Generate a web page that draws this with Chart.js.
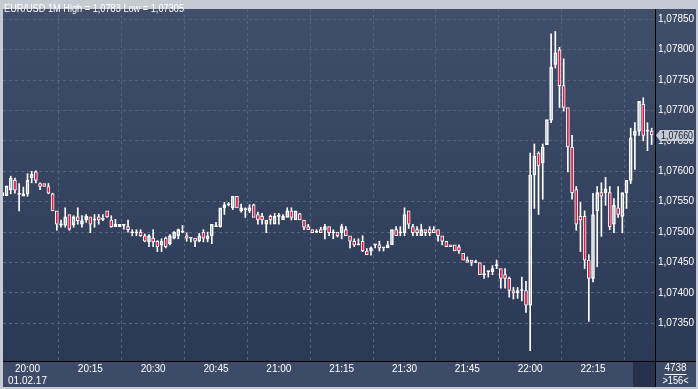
<!DOCTYPE html>
<html>
<head>
<meta charset="utf-8">
<script src="https://cdn.jsdelivr.net/npm/chart.js@4.4.1/dist/chart.umd.min.js"></script>
<style>
  html, body { margin: 0; padding: 0; background: #c6cbd3; }
  canvas { display: block; }
</style>
</head>
<body>
<canvas id="chart" width="698" height="389"></canvas>
<script>
// EUR/USD 1 minute candles, 19:54 .. 22:29
const opens = [
  1.07560,1.07560,1.07570,1.07585,1.07562,1.07559,1.07563,1.07589,1.07599,1.07580,
  1.07580,1.07575,1.07563,1.07535,1.07512,1.07511,1.07529,1.07512,1.07525,1.07513,
  1.07520,1.07525,1.07520,1.07525,1.07521,1.07535,1.07520,1.07509,1.07509,1.07511,
  1.07509,1.07499,1.07499,1.07500,1.07494,1.07484,1.07490,1.07485,1.07479,1.07490,
  1.07481,1.07490,1.07494,1.07500,1.07494,1.07490,1.07490,1.07485,1.07500,1.07489,
  1.07494,1.07509,1.07509,1.07540,1.07545,1.07540,1.07559,1.07535,1.07537,1.07535,
  1.07545,1.07529,1.07526,1.07513,1.07526,1.07513,1.07526,1.07520,1.07524,1.07535,
  1.07520,1.07530,1.07520,1.07509,1.07504,1.07500,1.07504,1.07504,1.07509,1.07499,
  1.07500,1.07499,1.07504,1.07494,1.07485,1.07479,1.07485,1.07469,1.07469,1.07479,
  1.07479,1.07474,1.07474,1.07479,1.07504,1.07499,1.07499,1.07535,1.07509,1.07504,
  1.07494,1.07504,1.07504,1.07504,1.07504,1.07494,1.07485,1.07479,1.07479,1.07476,
  1.07465,1.07454,1.07454,1.07450,1.07450,1.07430,1.07435,1.07435,1.07445,1.07440,
  1.07430,1.07424,1.07404,1.07400,1.07404,1.07404,1.07380,1.07594,1.07630,1.07614,
  1.07644,1.07684,1.07776,1.07800,1.07741,1.07705,1.07640,1.07570,1.07526,1.07526,
  1.07454,1.07424,1.07535,1.07565,1.07565,1.07565,1.07513,1.07540,1.07526,1.07565,
  1.07585,1.07659,1.07666,1.07710,1.07666,1.07666
];
const highs = [
  1.07565,1.07576,1.07592,1.07589,1.07580,1.07574,1.07596,1.07600,1.07601,1.07581,
  1.07580,1.07580,1.07564,1.07535,1.07520,1.07540,1.07529,1.07527,1.07540,1.07527,
  1.07529,1.07525,1.07529,1.07529,1.07529,1.07535,1.07527,1.07521,1.07513,1.07513,
  1.07520,1.07504,1.07504,1.07504,1.07497,1.07496,1.07504,1.07486,1.07489,1.07492,
  1.07496,1.07501,1.07505,1.07511,1.07499,1.07490,1.07490,1.07498,1.07504,1.07500,
  1.07513,1.07516,1.07540,1.07549,1.07549,1.07559,1.07559,1.07546,1.07540,1.07545,
  1.07546,1.07533,1.07531,1.07520,1.07528,1.07531,1.07531,1.07529,1.07540,1.07540,
  1.07535,1.07531,1.07520,1.07513,1.07504,1.07504,1.07508,1.07513,1.07509,1.07504,
  1.07500,1.07513,1.07509,1.07494,1.07489,1.07489,1.07494,1.07473,1.07476,1.07479,
  1.07485,1.07474,1.07485,1.07504,1.07509,1.07509,1.07540,1.07535,1.07513,1.07509,
  1.07513,1.07504,1.07509,1.07509,1.07504,1.07494,1.07485,1.07479,1.07479,1.07479,
  1.07465,1.07459,1.07454,1.07454,1.07450,1.07445,1.07435,1.07445,1.07454,1.07440,
  1.07440,1.07426,1.07409,1.07409,1.07426,1.07419,1.07630,1.07645,1.07632,1.07645,
  1.07685,1.07826,1.07830,1.07804,1.07785,1.07705,1.07659,1.07575,1.07549,1.07535,
  1.07463,1.07564,1.07575,1.07581,1.07590,1.07575,1.07555,1.07575,1.07565,1.07585,
  1.07671,1.07680,1.07715,1.07721,1.07680,1.07671
];
const lows = [
  1.07560,1.07560,1.07563,1.07564,1.07535,1.07559,1.07559,1.07581,1.07581,1.07570,
  1.07575,1.07563,1.07535,1.07503,1.07508,1.07508,1.07503,1.07508,1.07513,1.07508,
  1.07516,1.07499,1.07508,1.07513,1.07519,1.07524,1.07508,1.07509,1.07509,1.07505,
  1.07500,1.07494,1.07494,1.07493,1.07484,1.07476,1.07476,1.07468,1.07468,1.07474,
  1.07479,1.07489,1.07489,1.07499,1.07485,1.07484,1.07476,1.07484,1.07484,1.07484,
  1.07481,1.07509,1.07508,1.07529,1.07543,1.07537,1.07540,1.07533,1.07524,1.07532,
  1.07524,1.07513,1.07513,1.07499,1.07513,1.07513,1.07513,1.07520,1.07524,1.07520,
  1.07520,1.07520,1.07504,1.07504,1.07499,1.07499,1.07499,1.07489,1.07494,1.07489,
  1.07492,1.07489,1.07494,1.07474,1.07476,1.07479,1.07468,1.07463,1.07462,1.07474,
  1.07469,1.07469,1.07474,1.07479,1.07494,1.07494,1.07494,1.07506,1.07494,1.07494,
  1.07494,1.07494,1.07494,1.07499,1.07485,1.07479,1.07476,1.07476,1.07469,1.07465,
  1.07454,1.07450,1.07445,1.07450,1.07430,1.07424,1.07426,1.07430,1.07440,1.07408,
  1.07408,1.07393,1.07390,1.07391,1.07387,1.07368,1.07305,1.07539,1.07529,1.07554,
  1.07644,1.07680,1.07770,1.07705,1.07699,1.07599,1.07554,1.07503,1.07468,1.07440,
  1.07353,1.07418,1.07443,1.07493,1.07544,1.07504,1.07499,1.07524,1.07499,1.07539,
  1.07580,1.07603,1.07659,1.07650,1.07634,1.07644
];
const closes = [
  1.07565,1.07576,1.07589,1.07569,1.07562,1.07563,1.07585,1.07595,1.07585,1.07575,
  1.07575,1.07564,1.07535,1.07513,1.07512,1.07525,1.07505,1.07525,1.07519,1.07519,
  1.07526,1.07513,1.07520,1.07520,1.07521,1.07525,1.07509,1.07513,1.07513,1.07511,
  1.07504,1.07499,1.07499,1.07494,1.07485,1.07494,1.07484,1.07476,1.07485,1.07476,
  1.07494,1.07500,1.07504,1.07500,1.07490,1.07490,1.07485,1.07494,1.07490,1.07494,
  1.07513,1.07509,1.07540,1.07545,1.07545,1.07559,1.07540,1.07540,1.07537,1.07540,
  1.07524,1.07520,1.07520,1.07520,1.07520,1.07526,1.07526,1.07526,1.07535,1.07524,
  1.07535,1.07520,1.07508,1.07504,1.07499,1.07500,1.07499,1.07509,1.07499,1.07499,
  1.07494,1.07509,1.07494,1.07485,1.07479,1.07479,1.07469,1.07463,1.07474,1.07479,
  1.07474,1.07474,1.07479,1.07504,1.07494,1.07499,1.07529,1.07513,1.07499,1.07499,
  1.07504,1.07499,1.07499,1.07499,1.07494,1.07485,1.07476,1.07476,1.07469,1.07469,
  1.07454,1.07450,1.07450,1.07450,1.07430,1.07430,1.07435,1.07440,1.07445,1.07424,
  1.07424,1.07404,1.07400,1.07404,1.07404,1.07380,1.07594,1.07625,1.07609,1.07640,
  1.07685,1.07771,1.07795,1.07741,1.07705,1.07640,1.07565,1.07513,1.07520,1.07454,
  1.07424,1.07529,1.07565,1.07559,1.07571,1.07509,1.07544,1.07529,1.07565,1.07585,
  1.07655,1.07666,1.07715,1.07659,1.07666,1.07660
];

// time axis: candle index of each labelled minute
const timeTickIndex = [6, 21, 36, 51, 66, 81, 96, 111, 126, 141];
const timeLabels = ['20:00', '20:15', '20:30', '20:45', '21:00', '21:15', '21:30', '21:45', '22:00', '22:15'];
const dateLabel = '01.02.17';
const priceTicks = [1.0735, 1.0740, 1.0745, 1.0750, 1.0755, 1.0760, 1.0765, 1.0770, 1.0775, 1.0780, 1.0785];
const titleText = 'EUR/USD 1M High = 1,0783 Low = 1,07305';
const cornerValue = '4738';

const FONT = "'Liberation Sans', Arial, sans-serif";
const RED = '#e3163f';
const fmt = v => v.toFixed(5).replace('.', ',');

const idx = closes.map((_, i) => i);
const bodies = idx.map(i => ({ x: i, y: [Math.min(opens[i], closes[i]), Math.max(opens[i], closes[i])] }));
const upperWicks = idx.map(i => {
  const top = Math.max(opens[i], closes[i]);
  return { x: i, y: highs[i] > top ? [top, highs[i]] : null };
});
const lowerWicks = idx.map(i => {
  const bot = Math.min(opens[i], closes[i]);
  return { x: i, y: lows[i] < bot ? [lows[i], bot] : null };
});
const bodyFill = idx.map(i => closes[i] < opens[i] ? RED : 'rgba(0,0,0,0)');

const frame = {
  id: 'frame',
  beforeDraw(chart) {
    const { ctx, chartArea: a, width, height } = chart;
    ctx.save();
    ctx.fillStyle = '#c6cbd3';
    ctx.fillRect(0, 0, width, height);
    const g = ctx.createLinearGradient(0, a.top, 0, a.bottom);
    g.addColorStop(0, '#414e6a');
    g.addColorStop(1, '#2c3956');
    ctx.fillStyle = g;
    ctx.fillRect(a.left, a.top, width - 2 - a.left, a.bottom - a.top);
    // bottom time band
    ctx.fillStyle = '#3d4a68';
    ctx.fillRect(a.left, a.bottom, width - 2 - a.left, height - 2 - a.bottom);
    ctx.fillStyle = '#27314b';
    ctx.fillRect(633, a.bottom + 1, a.right - 633, height - 3 - a.bottom);
    // separators
    ctx.strokeStyle = '#000';
    ctx.lineWidth = 1;
    ctx.beginPath();
    ctx.moveTo(a.right + 0.5, a.top);
    ctx.lineTo(a.right + 0.5, height - 2);
    ctx.moveTo(a.left, a.bottom + 0.5);
    ctx.lineTo(width - 2, a.bottom + 0.5);
    ctx.stroke();
    ctx.restore();
  },
  afterDraw(chart) {
    const { ctx, chartArea: a, width, scales } = chart;
    ctx.save();
    ctx.font = '10px ' + FONT;
    ctx.textBaseline = 'middle';
    // title
    ctx.fillStyle = '#ffffff';
    ctx.textAlign = 'left';
    ctx.fillText(titleText, 4, 9, 180);
    // last price marker
    const last = closes[closes.length - 1];
    const y = Math.round(scales.y.getPixelForValue(last));
    ctx.fillStyle = '#c5cad3';
    ctx.beginPath();
    ctx.moveTo(656, y + 0.5);
    ctx.lineTo(660, y - 5);
    ctx.lineTo(694, y - 5);
    ctx.lineTo(694, y + 6);
    ctx.lineTo(660, y + 6);
    ctx.closePath();
    ctx.fill();
    ctx.fillStyle = '#0f1b35';
    ctx.fillText(fmt(last), 661, y + 1, 32);
    // corner counters
    ctx.fillStyle = '#ffffff';
    ctx.textAlign = 'center';
    const cx = (a.right + width - 2) / 2;
    ctx.fillText(cornerValue, cx, 368);
    ctx.fillText('>' + closes.length + '<', cx, 381, 26);
    ctx.strokeStyle = '#ffffff';
    ctx.beginPath();
    ctx.moveTo(cx - 11, 374.5);
    ctx.lineTo(cx + 11, 374.5);
    ctx.stroke();
    ctx.restore();
  }
};

new Chart(document.getElementById('chart'), {
  type: 'bar',
  data: {
    datasets: [
      {
        data: bodies,
        backgroundColor: bodyFill,
        borderColor: '#ffffff',
        borderWidth: 1,
        borderSkipped: false,
        barThickness: 3,
        minBarLength: 1,
        grouped: false
      },
      {
        data: upperWicks,
        backgroundColor: '#ffffff',
        barThickness: 1,
        grouped: false
      },
      {
        data: lowerWicks,
        backgroundColor: '#ffffff',
        barThickness: 1,
        grouped: false
      }
    ]
  },
  options: {
    responsive: false,
    animation: false,
    events: [],
    layout: { padding: { left: 3, top: 3, right: 2, bottom: 2 } },
    plugins: { legend: { display: false }, tooltip: { enabled: false } },
    scales: {
      x: {
        type: 'linear',
        min: 0.15,
        max: 155.8,
        offset: false,
        afterBuildTicks: s => { s.ticks = timeTickIndex.map(v => ({ value: v })); },
        afterFit: s => { s.height = 26; },
        grid: { color: '#56637f', drawTicks: false },
        border: { display: false, dash: [3, 3] },
        ticks: {
          autoSkip: false,
          maxRotation: 0,
          padding: 2,
          color: '#ffffff',
          font: { family: FONT, size: 10 },
          callback: v => {
            const k = timeTickIndex.indexOf(v);
            return k === 0 ? [timeLabels[0], dateLabel] : timeLabels[k];
          }
        }
      },
      y: {
        position: 'right',
        min: 1.07288,
        max: 1.07867,
        afterBuildTicks: s => { s.ticks = priceTicks.map(v => ({ value: v })); },
        afterFit: s => { s.width = 41; },
        grid: { color: '#56637f', drawTicks: false },
        border: { display: false, dash: [3, 3] },
        ticks: {
          padding: 3,
          color: '#ffffff',
          font: { family: FONT, size: 10 },
          callback: v => fmt(v)
        }
      }
    }
  },
  plugins: [frame]
});
</script>
</body>
</html>
